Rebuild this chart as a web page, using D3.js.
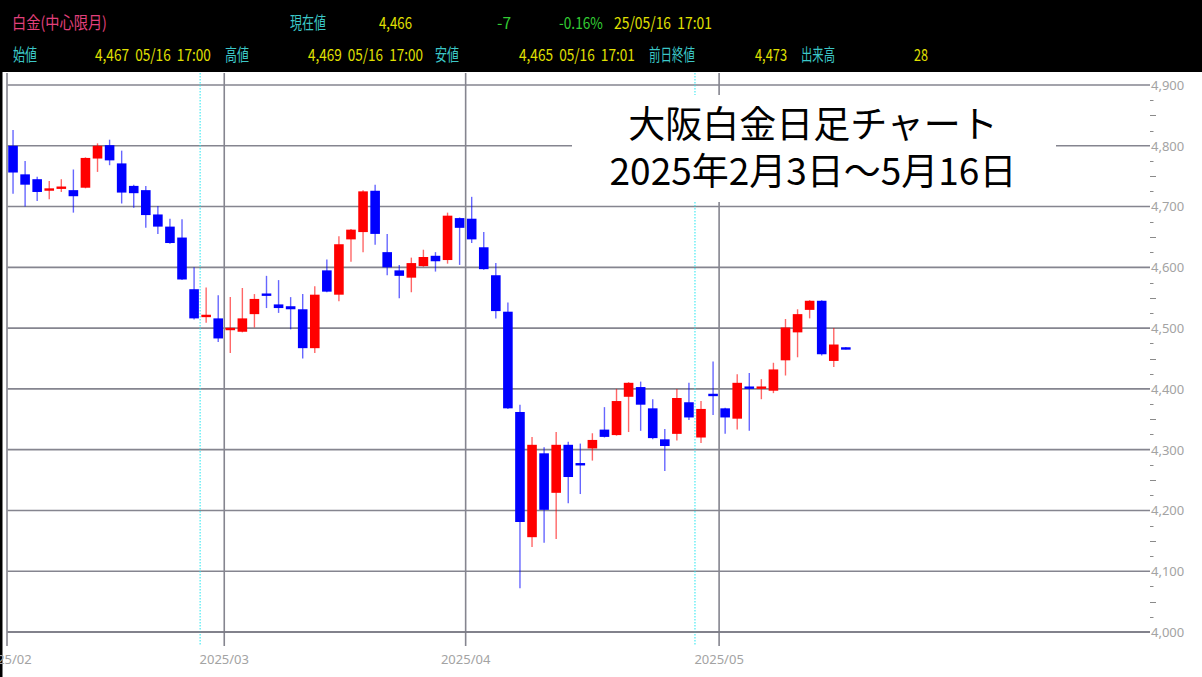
<!DOCTYPE html>
<html>
<head>
<meta charset="utf-8">
<script src="https://cdn.jsdelivr.net/npm/d3@7"></script>
<style>
html,body{margin:0;padding:0;background:#fff;overflow:hidden;}
svg{display:block;}
</style>
</head>
<body>
<svg id="chart" width="1202" height="677"></svg>
<script>
// ---- data ----
const dates = [
 "2025-02-03","2025-02-04","2025-02-05","2025-02-06","2025-02-07","2025-02-10","2025-02-12","2025-02-13","2025-02-14",
 "2025-02-17","2025-02-18","2025-02-19","2025-02-20","2025-02-21","2025-02-25","2025-02-26","2025-02-27","2025-02-28",
 "2025-03-03","2025-03-04","2025-03-05","2025-03-06","2025-03-07","2025-03-10","2025-03-11","2025-03-12","2025-03-13",
 "2025-03-14","2025-03-17","2025-03-18","2025-03-19","2025-03-21","2025-03-24","2025-03-25","2025-03-26","2025-03-27",
 "2025-03-28","2025-03-31",
 "2025-04-01","2025-04-02","2025-04-03","2025-04-04","2025-04-07","2025-04-08","2025-04-09","2025-04-10","2025-04-11",
 "2025-04-14","2025-04-15","2025-04-16","2025-04-17","2025-04-18","2025-04-21","2025-04-22","2025-04-23","2025-04-24",
 "2025-04-25","2025-04-28","2025-04-30",
 "2025-05-01","2025-05-02","2025-05-06","2025-05-07","2025-05-08","2025-05-09","2025-05-12","2025-05-13","2025-05-14",
 "2025-05-15","2025-05-16"
];
const open  = [4800,4753,4745,4727,4730,4727,4731,4779,4801,4771,4734,4727,4687,4667,4649,4564,4519,4516,
               4497,4494,4523,4556,4539,4536,4531,4467,4595,4555,4646,4658,4726,4625,4595,4583,4602,4619,4612,4681,
               4680,4633,4587,4527,4362,4156,4294,4229,4308,4277,4302,4333,4324,4387,4403,4368,4317,4326,4378,4320,4391,
               4368,4351,4403,4401,4397,4447,4493,4530,4545,4446,4467];
const high  = [4826,4775,4749,4742,4745,4761,4781,4804,4810,4792,4736,4734,4701,4680,4679,4600,4567,4554,
               4551,4566,4556,4586,4579,4551,4556,4569,4613,4651,4663,4727,4736,4655,4604,4616,4629,4625,4690,4682,
               4716,4658,4607,4542,4374,4321,4304,4329,4313,4310,4327,4370,4400,4411,4412,4383,4334,4400,4410,4380,4445,
               4369,4424,4426,4416,4443,4515,4531,4546,4546,4500,4469];
const low   = [4721,4700,4709,4712,4724,4690,4730,4757,4768,4705,4698,4665,4655,4639,4579,4514,4509,4477,
               4459,4493,4501,4533,4525,4498,4450,4459,4559,4544,4609,4625,4637,4587,4549,4559,4601,4593,4606,4604,
               4640,4596,4516,4367,4072,4140,4147,4153,4212,4227,4282,4320,4323,4329,4331,4317,4265,4315,4349,4311,4357,
               4326,4333,4331,4383,4393,4422,4452,4516,4455,4436,4465];
const close = [4756,4736,4724,4729,4732,4717,4780,4800,4776,4723,4722,4686,4667,4640,4580,4516,4521,4483,
               4500,4516,4548,4554,4533,4531,4467,4555,4560,4638,4662,4725,4655,4600,4586,4607,4617,4610,4685,4665,
               4646,4597,4528,4368,4181,4308,4201,4308,4255,4275,4316,4321,4380,4410,4374,4319,4306,4385,4353,4367,4389,
               4353,4410,4401,4403,4432,4501,4523,4545,4457,4473,4466];
const rollDates = ["2025-02-27","2025-04-28"];   // 中心限月の切替
const yTicks = [4000,4100,4200,4300,4400,4500,4600,4700,4800,4900];
const titleLines = ["大阪白金日足チャート","2025年2月3日～5月16日"];
const headerRow1 = [
  {t:"白金(中心限月)", c:"#e2407c", x:12, w:95},
  {t:"現在値", c:"#3cc8c8", x:290, w:36},
  {t:"4,466", c:"#e0e000", x:379, w:33},
  {t:"-7", c:"#33cc33", x:497, w:14},
  {t:"-0.16%", c:"#33cc33", x:559, w:44},
  {t:"25/05/16  17:01", c:"#e0e000", x:614, w:98}
];
const headerRow2 = [
  {t:"始値", c:"#3cc8c8", x:13, w:24},
  {t:"4,467  05/16  17:00", c:"#e0e000", x:95, w:116},
  {t:"高値", c:"#3cc8c8", x:225, w:24},
  {t:"4,469  05/16  17:00", c:"#e0e000", x:308, w:115},
  {t:"安値", c:"#3cc8c8", x:435, w:24},
  {t:"4,465  05/16  17:01", c:"#e0e000", x:519, w:116},
  {t:"前日終値", c:"#3cc8c8", x:649, w:46},
  {t:"4,473", c:"#e0e000", x:755, w:32},
  {t:"出来高", c:"#3cc8c8", x:801, w:34},
  {t:"28", c:"#e0e000", x:914, w:14}
];

// ---- layout ----
const svg = d3.select("#chart");
const W = 1202, H = 677;
const plotTop = 73, plotLeft = 7.5, plotRight = 1150, axisY = 632;

const candles = dates.map((d,i)=>({i, d, o:open[i], h:high[i], l:low[i], c:close[i]}));

const x = d3.scaleLinear().domain([-0.5, 94.2]).range([7, 1150]);
const y = d3.scaleLinear().domain([4000, 4900]).range([632, 85]);
const bodyW = 9.6;

svg.append("rect").attr("width",W).attr("height",H).attr("fill","#fff");

// header
svg.append("rect").attr("x",0).attr("y",0).attr("width",W).attr("height",72).attr("fill","#000");
const hdrFont = "'Noto Sans CJK JP','Noto Sans',sans-serif";
function hdr(row, yb){
  svg.append("g").selectAll("text").data(row).join("text")
    .attr("x",0).attr("y",0)
    .attr("font-family", hdrFont).attr("font-size", 16.5)
    .attr("fill", d=>d.c).style("white-space","pre")
    .text(d=>d.t)
    .each(function(d){
      const w0 = this.getComputedTextLength() || d.w;
      d3.select(this).attr("transform",`translate(${d.x},${yb}) scale(${d.w/w0},1)`);
    });
}
hdr(headerRow1, 29);
hdr(headerRow2, 61);

// left black border
svg.append("rect").attr("x",0).attr("y",72).attr("width",2.5).attr("height",H-72).attr("fill","#000");

const gridColor = "#85858f";

// right value axis (labels)
const yAxisG = svg.append("g").attr("transform",`translate(${plotRight},0)`);
yAxisG.call(d3.axisRight(y).tickValues(yTicks).tickSize(0).tickPadding(1)
  .tickFormat(d3.format(",")));
yAxisG.select(".domain").remove();
yAxisG.selectAll("text").attr("font-family","'Noto Sans',sans-serif").attr("font-size",13)
  .attr("fill","#a3a3a3").attr("dy","0.34em");
// horizontal grid
svg.append("g").selectAll("line").data(yTicks).join("line")
  .attr("x1",plotLeft).attr("x2",plotRight)
  .attr("y1",d=>y(d)).attr("y2",d=>y(d))
  .attr("stroke",gridColor).attr("stroke-width",1.6);

// minor ticks on right axis
const minor = [];
for (let k=0;k<yTicks.length-1;k++){ [25,50,75].forEach(m=>minor.push({v:yTicks[k]+m, m})); }
svg.append("g").selectAll("line").data(minor).join("line")
  .attr("x1",plotRight).attr("x2",d=>plotRight + (d.m===50?6:3.5))
  .attr("y1",d=>Math.round(y(d.v))+0.5).attr("y2",d=>Math.round(y(d.v))+0.5)
  .attr("stroke","#8a8a8a").attr("stroke-width",1);

// month lines
const monthStarts = candles.filter((c,i)=> i===0 || c.d.slice(0,7)!==candles[i-1].d.slice(0,7));
const mx = c => x(c.i - 0.5);
svg.append("g").selectAll("line").data(monthStarts).join("line")
  .attr("x1",mx).attr("x2",mx).attr("y1",plotTop).attr("y2",646)
  .attr("stroke",gridColor).attr("stroke-width",1.6);
svg.append("g").selectAll("text").data(monthStarts).join("text")
  .attr("x",mx).attr("y",664).attr("text-anchor","middle")
  .attr("font-family","'Noto Sans',sans-serif").attr("font-size",13).attr("fill","#a3a3a3")
  .text(c=>c.d.slice(0,4)+"/"+c.d.slice(5,7));

// roll markers (cyan dotted)
const rolls = candles.filter(c=>rollDates.includes(c.d));
svg.append("g").selectAll("line").data(rolls).join("line")
  .attr("x1",mx).attr("x2",mx).attr("y1",plotTop).attr("y2",646)
  .attr("stroke","#22e6f0").attr("stroke-width",1).attr("stroke-dasharray","1.5,1.5");

// x axis line
svg.append("line").attr("x1",plotLeft).attr("x2",plotRight).attr("y1",axisY).attr("y2",axisY)
  .attr("stroke","#777782").attr("stroke-width",1.6);

// title box
svg.append("rect").attr("x",572).attr("y",95).attr("width",484).attr("height",107).attr("fill","#fff");
svg.append("g").selectAll("text").data(titleLines).join("text")
  .attr("x",813).attr("y",(d,i)=> i===0?138:185).attr("text-anchor","middle")
  .attr("font-family","'Noto Sans CJK JP',sans-serif").attr("font-size",37).attr("fill","#000")
  .text(d=>d);

// candles
const up = "#ff0000", dn = "#0000ff";
const col = c => c.c >= c.o ? up : dn;
const cg = svg.append("g");
cg.selectAll("line.wick").data(candles).join("line").attr("class","wick")
  .attr("x1",c=>x(c.i)).attr("x2",c=>x(c.i))
  .attr("y1",c=>y(c.h)).attr("y2",c=>y(c.l))
  .attr("stroke",col).attr("stroke-opacity",0.6).attr("stroke-width",1.4);
cg.selectAll("rect.body").data(candles).join("rect").attr("class","body")
  .attr("x",c=>x(c.i)-bodyW/2).attr("width",bodyW)
  .attr("y",c=>{const t=y(Math.max(c.o,c.c)), b=y(Math.min(c.o,c.c)); return (b-t<2.4)?(t+b)/2-1.2:t;})
  .attr("height",c=>Math.max(2.4, y(Math.min(c.o,c.c))-y(Math.max(c.o,c.c))))
  .attr("fill",col);
</script>
</body>
</html>
